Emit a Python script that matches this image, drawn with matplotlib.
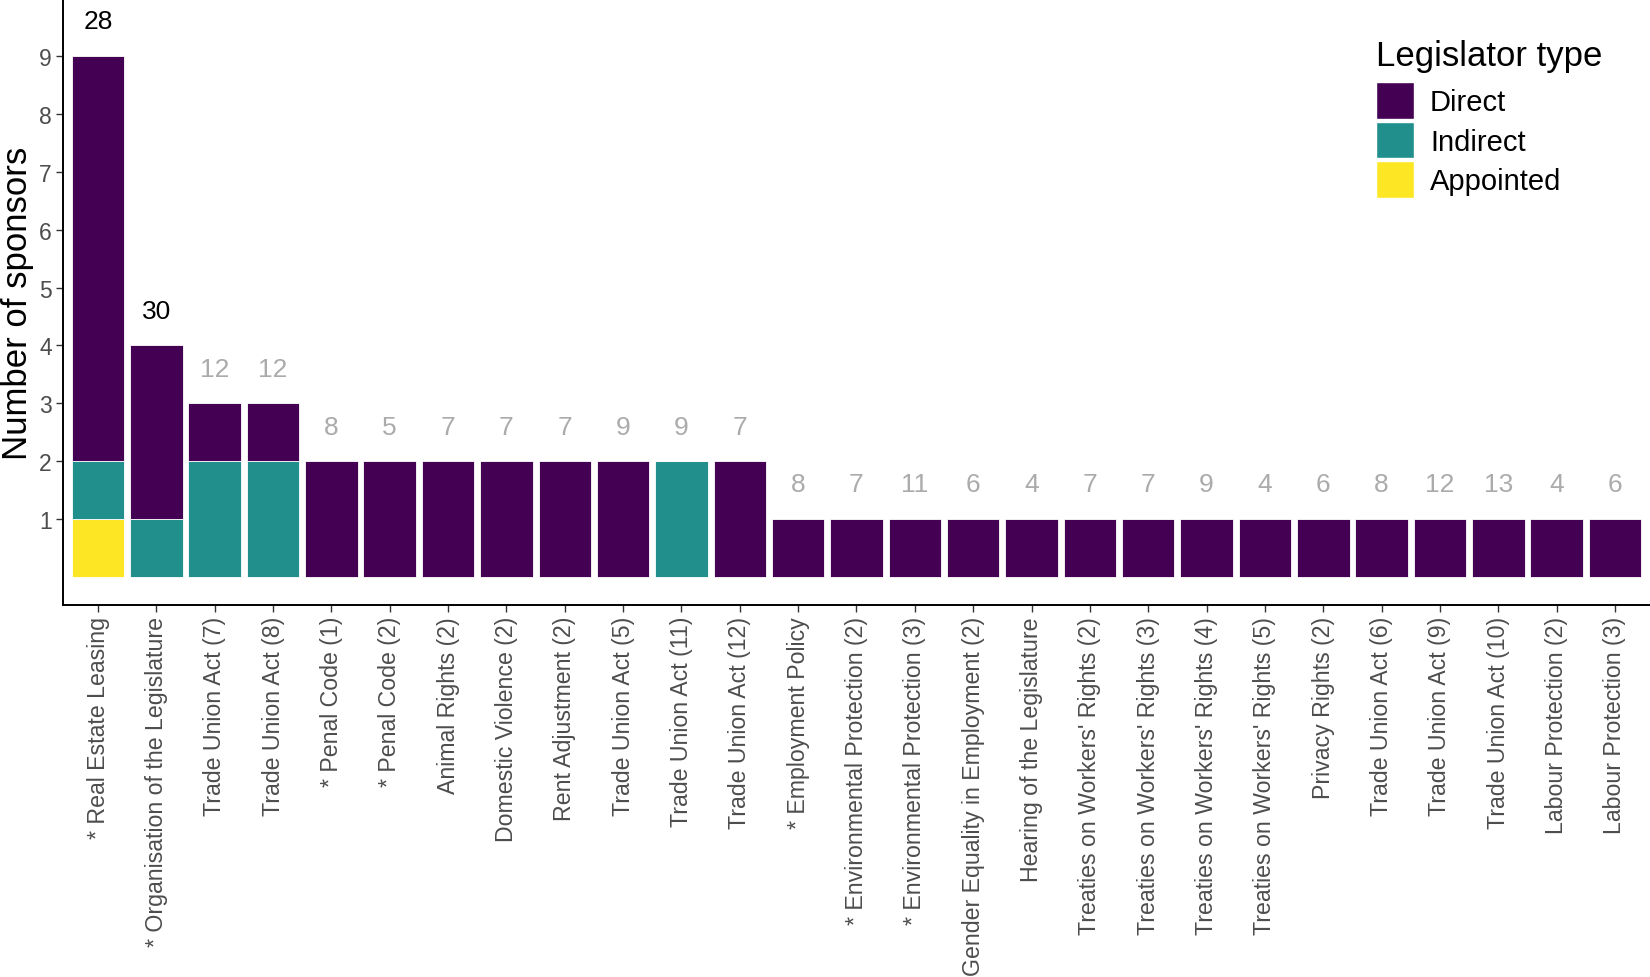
import matplotlib
matplotlib.use("Agg")
import matplotlib.pyplot as plt
from matplotlib.patches import Patch
import numpy as np

plt.rcParams['font.family'] = ['Liberation Sans', 'DejaVu Sans']

laws = ["* Real Estate Leasing", "* Organisation of the Legislature",
        "Trade Union Act (7)", "Trade Union Act (8)", "* Penal Code (1)",
        "* Penal Code (2)", "Animal Rights (2)", "Domestic Violence (2)",
        "Rent Adjustment (2)", "Trade Union Act (5)", "Trade Union Act (11)",
        "Trade Union Act (12)", "* Employment Policy",
        "* Environmental Protection (2)", "* Environmental Protection (3)",
        "Gender Equality in Employment (2)", "Hearing of the Legislature",
        "Treaties on Workers' Rights (2)", "Treaties on Workers' Rights (3)",
        "Treaties on Workers' Rights (4)", "Treaties on Workers' Rights (5)",
        "Privacy Rights (2)", "Trade Union Act (6)", "Trade Union Act (9)",
        "Trade Union Act (10)", "Labour Protection (2)", "Labour Protection (3)"]
appointed = [1, 0, 0, 0, 0, 0, 0, 0, 0, 0, 0, 0, 0, 0, 0, 0, 0, 0, 0, 0, 0, 0, 0, 0, 0, 0, 0]
indirect = [1, 1, 2, 2, 0, 0, 0, 0, 0, 0, 2, 0, 0, 0, 0, 0, 0, 0, 0, 0, 0, 0, 0, 0, 0, 0, 0]
direct = [7, 3, 1, 1, 2, 2, 2, 2, 2, 2, 0, 2, 1, 1, 1, 1, 1, 1, 1, 1, 1, 1, 1, 1, 1, 1, 1]
top_labels = [28, 30, 12, 12, 8, 5, 7, 7, 7, 9, 9, 7, 8, 7, 11, 6, 4, 7, 7, 9, 4, 6, 8, 12, 13, 4, 6]
highlight = [True, True] + [False] * 25

colors = {"Direct": "#440154", "Indirect": "#21908C", "Appointed": "#FDE725"}

W, H = 1650, 978
fig = plt.figure(figsize=(W / 100, H / 100), dpi=100)
ax = fig.add_axes([63 / W, 1 - 606 / H, (W - 63) / W, 606 / H])

x = np.arange(len(laws))
a = np.array(appointed)
i = np.array(indirect)
d = np.array(direct)
kw = dict(width=0.9, edgecolor="white", linewidth=0.6)
ax.bar(x, a, color=colors["Appointed"], **kw)
ax.bar(x, i, bottom=a, color=colors["Indirect"], **kw)
ax.bar(x, d, bottom=a + i, color=colors["Direct"], **kw)

totals = a + i + d
for xi, t, lab, hl in zip(x, totals, top_labels, highlight):
    ax.text(xi, t + 0.6, str(lab), ha="center", va="center", fontsize=19,
            color="black" if hl else "#ABABAB")

ax.set_xlim(-0.6, len(laws) - 0.4)
ax.set_ylim(-0.48, 9.98)
ax.set_yticks(range(1, 10))
ax.set_xticks(x)
ax.set_xticklabels(laws, rotation=90, fontsize=16.7, color="#4D4D4D")
ax.tick_params(axis="y", labelsize=16.5, labelcolor="#4D4D4D", length=5, width=1,
               color="#333333", pad=3)
ax.tick_params(axis="x", length=5, width=1, color="#333333", pad=3)
for s in ["top", "right"]:
    ax.spines[s].set_visible(False)
for s in ["left", "bottom"]:
    ax.spines[s].set_linewidth(1.4)
ax.set_ylabel("Number of sponsors", fontsize=25, labelpad=4)

handles = [Patch(facecolor=colors[k], edgecolor="white", linewidth=1.0) for k in ["Direct", "Indirect", "Appointed"]]
leg = ax.legend(handles, ["Direct", "Indirect", "Appointed"], title="Legislator type",
                loc="upper left", bbox_to_anchor=(1376 / W, 1 - 40 / H),
                bbox_transform=fig.transFigure, frameon=False, fontsize=21,
                title_fontsize=25, handlelength=1.3, handleheight=1.57,
                labelspacing=0.1, handletextpad=0.55, borderaxespad=0,
                alignment="left", borderpad=0)
leg._legend_box.sep = 7

fig.savefig("out.png", dpi=100)
